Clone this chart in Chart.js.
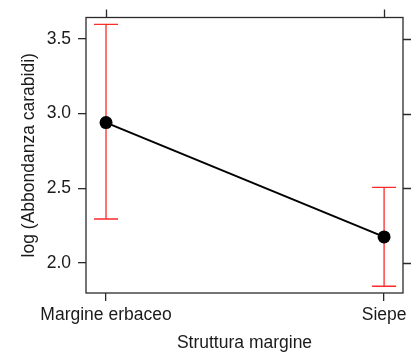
<!DOCTYPE html>
<html>
<head>
<meta charset="utf-8">
<script src="https://cdn.jsdelivr.net/npm/chart.js@4/dist/chart.umd.min.js"></script>
<style>
  html, body { margin: 0; padding: 0; background: #fff; }
  #wrap { width: 413px; height: 354px; }
</style>
</head>
<body>
<div id="wrap"><canvas id="c" width="413" height="354"></canvas></div>
<script>
// Effect of margin structure on log carabid abundance (fit with confidence interval)
const categories = ['Margine erbaceo', 'Siepe'];
const fitValues = [2.94, 2.175];
const lowerValues = [2.295, 1.845];
const upperValues = [3.597, 2.507];
const yTicks = [2.0, 2.5, 3.0, 3.5];

const INK = '#1a1a1a';
const FONT = { family: '"Liberation Sans", Arial, sans-serif', size: 17.5 };

// Red interval bars with end caps, drawn beneath the line and points
const errorBars = {
  id: 'errorBars',
  beforeDatasetsDraw(chart) {
    const { ctx, scales: { x, y } } = chart;
    ctx.save();
    ctx.strokeStyle = '#ff2a2a';
    ctx.lineWidth = 1.3;
    categories.forEach((c, i) => {
      const px = x.getPixelForValue(i);
      const top = y.getPixelForValue(upperValues[i]);
      const bot = y.getPixelForValue(lowerValues[i]);
      ctx.beginPath();
      ctx.moveTo(px, top); ctx.lineTo(px, bot);
      ctx.moveTo(px - 12, top); ctx.lineTo(px + 12, top);
      ctx.moveTo(px - 12, bot); ctx.lineTo(px + 12, bot);
      ctx.stroke();
    });
    ctx.restore();
  }
};

// Panel box plus mirrored ticks on the top and right sides
const frame = {
  id: 'frame',
  afterDraw(chart) {
    const { ctx, chartArea: a, scales: { x, y } } = chart;
    ctx.save();
    ctx.strokeStyle = '#2a2a2a';
    ctx.lineWidth = 1.3;
    ctx.strokeRect(a.left, a.top, a.right - a.left, a.bottom - a.top);
    ctx.beginPath();
    x.ticks.forEach(t => {
      const px = Math.round(x.getPixelForValue(t.value)) + 0.5;
      ctx.moveTo(px, a.top); ctx.lineTo(px, a.top - 8);
    });
    y.ticks.forEach(t => {
      const py = Math.round(y.getPixelForValue(t.value)) + 0.5;
      ctx.moveTo(a.right, py); ctx.lineTo(a.right + 8, py);
    });
    ctx.stroke();
    ctx.restore();
  }
};

new Chart(document.getElementById('c'), {
  type: 'line',
  data: {
    datasets: [{
      data: fitValues.map((v, i) => ({ x: i, y: v })),
      borderColor: '#000',
      borderWidth: 2,
      pointRadius: 6.5,
      pointBackgroundColor: '#000',
      pointBorderColor: '#000',
      pointBorderWidth: 0,
      tension: 0
    }]
  },
  options: {
    responsive: false,
    animation: false,
    events: [],
    layout: { padding: { top: 16, right: 10, left: 0, bottom: 0 } },
    plugins: { legend: { display: false }, tooltip: { enabled: false } },
    scales: {
      x: {
        type: 'linear',
        min: -0.072,
        max: 1.068,
        afterBuildTicks: s => { s.ticks = categories.map((c, i) => ({ value: i })); },
        afterFit: s => { s.height = 61; },
        ticks: {
          callback: v => categories[v],
          color: INK, font: FONT, padding: 4, maxRotation: 0, autoSkip: false
        },
        grid: { drawOnChartArea: false, drawTicks: true, tickLength: 8, color: '#2a2a2a', lineWidth: 1.3 },
        border: { display: false },
        title: { display: true, text: 'Struttura margine', color: INK, font: FONT, padding: { top: 0, bottom: 0 } }
      },
      y: {
        type: 'linear',
        min: 1.80,
        max: 3.643,
        afterBuildTicks: s => { s.ticks = yTicks.map(v => ({ value: v })); },
        afterFit: s => { s.width = 86; },
        ticks: {
          callback: v => v.toFixed(1),
          color: INK, font: FONT, padding: 7
        },
        grid: { drawOnChartArea: false, drawTicks: true, tickLength: 8, color: '#2a2a2a', lineWidth: 1.3 },
        border: { display: false },
        title: { display: true, text: 'log (Abbondanza carabidi)', color: INK, font: FONT, padding: { top: 19, bottom: 0 } }
      }
    }
  },
  plugins: [errorBars, frame]
});
</script>
</body>
</html>
